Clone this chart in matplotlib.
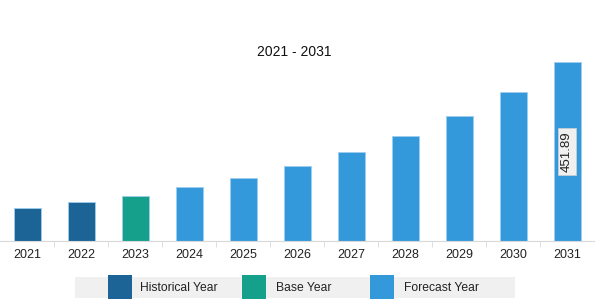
import matplotlib
matplotlib.use('Agg')
import matplotlib.pyplot as plt
from matplotlib.patches import Rectangle

years = ['2021', '2022', '2023', '2024', '2025', '2026', '2027', '2028', '2029', '2030', '2031']
values = [83.3, 97.7, 114.6, 135.6, 159.8, 188.6, 223.9, 265.8, 314.8, 377.2, 451.89]
kinds = ['hist', 'hist', 'base', 'fore', 'fore', 'fore', 'fore', 'fore', 'fore', 'fore', 'fore']
legend_labels = ['Historical Year', 'Base Year', 'Forecast Year']
colors = {'hist': '#1b6495', 'base': '#14a08a', 'fore': '#3399da'}

plt.rcParams['font.family'] = ['Liberation Sans', 'DejaVu Sans']

fig = plt.figure(figsize=(6.16, 3.07), dpi=100)
ax = fig.add_axes([0, 66 / 307, 594 / 616, (241 - 43) / 307])

x = list(range(len(years)))
ax.bar(x, values, width=0.5, color=[colors[k] for k in kinds],
       edgecolor='#9fcdee', linewidth=0.6)
ax.set_xlim(-0.5, len(years) - 0.5)
ax.set_ylim(0, 500)

for s in ['top', 'right', 'left']:
    ax.spines[s].set_visible(False)
ax.spines['bottom'].set_color('#d9d9d9')
ax.set_yticks([])
ax.set_xticks(x)
ax.set_xticklabels(years, fontsize=9, color='#222222')
ax.tick_params(axis='x', length=0, pad=6)
ax.set_xticks([i + 0.5 for i in x[:-1]], minor=True)
ax.tick_params(axis='x', which='minor', length=4, color='#d9d9d9')

ax.text(x[-1], values[-1] / 2, f'{values[-1]:.2f}', rotation=90, ha='center', va='center',
        fontsize=9.5, color='#222222',
        bbox=dict(boxstyle='square,pad=0.25', facecolor='#f0f0f0', edgecolor='#d0d0d0', linewidth=0.5))

fig.text(294 / 616, 1 - 52 / 307, '2021 - 2031', ha='center', va='center', fontsize=10, color='#111111')

# legend box
W, H = 616, 307
fig.patches.append(Rectangle((75 / W, 1 - 298 / H), 440 / W, 21 / H, transform=fig.transFigure,
                             facecolor='#f0f0f0', edgecolor='none'))
patch_x = [108, 242, 370]
text_x = [140, 276, 404]
for px, tx, lab, k in zip(patch_x, text_x, legend_labels, ['hist', 'base', 'fore']):
    fig.patches.append(Rectangle((px / W, 1 - 299 / H), 24 / W, 24 / H, transform=fig.transFigure,
                                 facecolor=colors[k], edgecolor='none'))
    fig.text(tx / W, 1 - 288 / H, lab, ha='left', va='center', fontsize=8.7, color='#222222')

fig.savefig('out.png', dpi=100)
